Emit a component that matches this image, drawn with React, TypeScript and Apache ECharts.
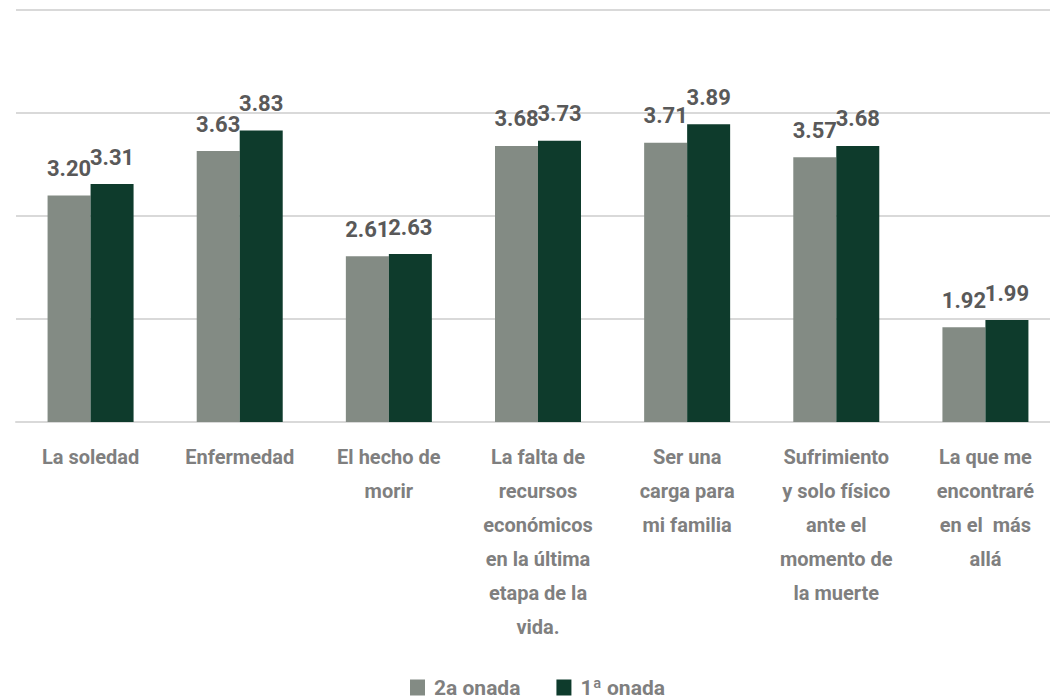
import React, { useEffect, useRef } from "react";
import * as echarts from "echarts";

const categories = [
  "La soledad",
  "Enfermedad",
  "El hecho de\nmorir",
  "La falta de\nrecursos\neconómicos\nen la última\netapa de la\nvida.",
  "Ser una\ncarga para\nmi familia",
  "Sufrimiento\ny solo físico\nante el\nmomento de\nla muerte",
  "La que me\nencontraré\nen el  más\nallá",
];
const wave2 = [3.2, 3.63, 2.61, 3.68, 3.71, 3.57, 1.92];
const wave1 = [3.31, 3.83, 2.63, 3.73, 3.89, 3.68, 1.99];
const seriesNames = ["2a onada", "1ª onada"];

const FONT = "Roboto, 'Noto Sans', sans-serif";

export default function App() {
  const ref = useRef<HTMLDivElement>(null);
  useEffect(() => {
    if (!ref.current) return;
    const chart = echarts.init(ref.current, null, { renderer: "svg" });
    const label = {
      show: true,
      position: "top" as const,
      distance: 16,
      fontFamily: FONT,
      fontWeight: "bold" as const,
      fontSize: 22,
      color: "#595959",
      formatter: (p: any) => Number(p.value).toFixed(2),
    };
    chart.setOption({
      animation: false,
      backgroundColor: "#ffffff",
      textStyle: { fontFamily: FONT },
      grid: { left: 16, top: 10, right: 0, height: 412, containLabel: false },
      legend: {
        top: 672,
        left: 405,
        itemWidth: 15,
        itemHeight: 16,
        itemGap: 36,
        icon: "rect",
        textStyle: {
          fontFamily: FONT,
          fontWeight: "bold",
          fontSize: 21,
          color: "#7f7f7f",
          padding: [0, 0, 0, 4],
        },
        data: seriesNames,
      },
      xAxis: {
        type: "category",
        data: categories,
        axisLine: { show: true, lineStyle: { color: "#d9d9d9", width: 2 } },
        axisTick: { show: false },
        axisLabel: {
          interval: 0,
          margin: 18,
          fontFamily: FONT,
          fontWeight: "bold",
          fontSize: 20,
          lineHeight: 34,
          color: "#7f7f7f",
          align: "center",
        },
      },
      yAxis: {
        type: "value",
        min: 1,
        max: 5,
        interval: 1,
        axisLabel: { show: false },
        axisLine: { show: false },
        axisTick: { show: false },
        splitLine: { lineStyle: { color: "#d9d9d9", width: 2 } },
      },
      series: [
        {
          name: seriesNames[0],
          type: "bar",
          data: wave2,
          barWidth: 43,
          barGap: "0%",
          itemStyle: { color: "#838b84" },
          label,
        },
        {
          name: seriesNames[1],
          type: "bar",
          data: wave1,
          barWidth: 43,
          barGap: "0%",
          itemStyle: { color: "#0e3b2c" },
          label,
        },
      ],
    });
    return () => chart.dispose();
  }, []);
  return (
    <div
      ref={ref}
      style={{ position: "fixed", left: 0, top: 0, width: 1060, height: 698 }}
    />
  );
}
